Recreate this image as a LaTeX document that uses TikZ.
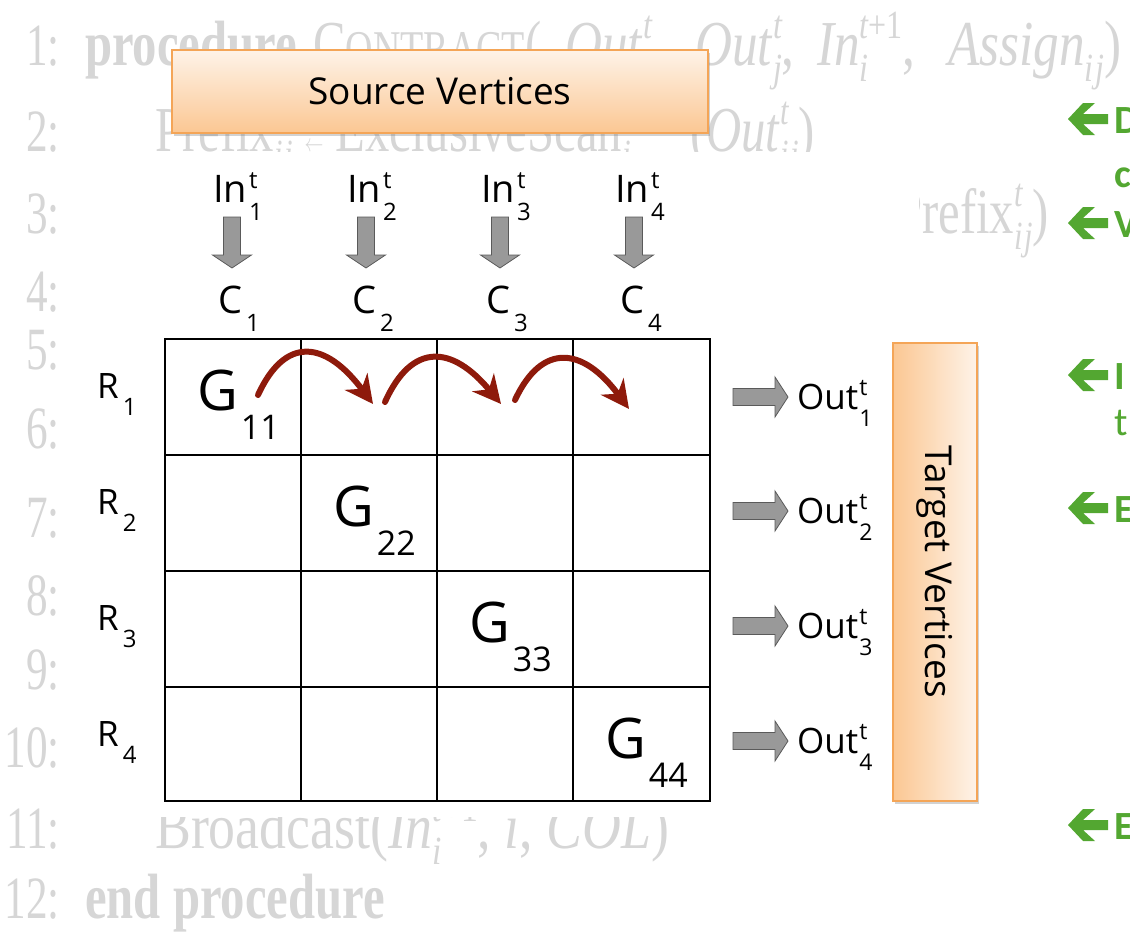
\documentclass[tikz,border=0pt]{standalone}
\usepackage{fontspec}
\usepackage{graphicx}
\setmainfont{Liberation Serif}
\newfontfamily\osans{Open Sans}
\newfontfamily\gsans{Carlito}
\usetikzlibrary{arrows.meta,shadows}
\definecolor{algogray}{HTML}{D6D6D6}
\definecolor{boxborder}{HTML}{F4A557}
\definecolor{boxdark}{HTML}{FBC793}
\definecolor{boxlight}{HTML}{FEF3E8}
\definecolor{arrgray}{HTML}{999999}
\definecolor{arredge}{HTML}{5A5A5A}
\definecolor{darkred}{HTML}{8E1A0B}
\definecolor{annogreen}{HTML}{53A731}
\newcommand\cnum[1]{\scalebox{0.72}[1]{#1}}
\newcommand\cnd[1]{\scalebox{0.76}[1]{#1}}
\newcommand\cndi[1]{\scalebox{0.8}[1]{#1}}
\newcommand\cndw[1]{\scalebox{0.84}[1]{#1}}
\newcommand\scf{\fontsize{40}{40}\selectfont\itshape}
\newcommand\asc[2]{\setbox0\hbox{\scf #1}\setbox2\hbox{\scf #2}%
  \ifdim\wd0>\wd2 \rlap{\raisebox{-16pt}{\box2}}\raisebox{27pt}{\box0}%
  \else\rlap{\raisebox{27pt}{\box0}}\raisebox{-16pt}{\box2}\fi}
\newcommand\asub[1]{\raisebox{-16pt}{\scf #1}}
\newcommand\Inlbl[1]{In\kern2pt\rlap{\raisebox{14pt}{\fontsize{24}{24}\selectfont t}}\raisebox{-18pt}{\fontsize{24}{24}\selectfont #1}}
\newcommand\Clbl[1]{C\kern4pt\raisebox{-18pt}{\fontsize{24}{24}\selectfont #1}}
\newcommand\Rlbl[1]{R\kern4pt\raisebox{-17pt}{\fontsize{24}{24}\selectfont #1}}
\newcommand\Glbl[1]{G\kern3pt\raisebox{-29pt}{\fontsize{34}{34}\selectfont #1}}
\newcommand\Outlbl[1]{Out\kern1pt\rlap{\raisebox{14pt}{\fontsize{23}{23}\selectfont t}}\raisebox{-17pt}{\fontsize{23}{23}\selectfont #1}}
\tikzset{
  algo/.style={text=algogray, anchor=base west, inner sep=0pt, font=\fontsize{64}{64}\selectfont},
  lnum/.style={text=algogray, anchor=base east, inner sep=0pt, font=\fontsize{60}{60}\selectfont},
  lbl/.style={anchor=base west, inner sep=0pt, font=\osans\fontsize{38}{38}\selectfont},
  rlbl/.style={anchor=base west, inner sep=0pt, font=\osans\fontsize{35}{35}\selectfont},
  glbl/.style={anchor=base west, inner sep=0pt, font=\osans\fontsize{56}{56}\selectfont},
  outlbl/.style={anchor=base west, inner sep=0pt, font=\osans\fontsize{35}{35}\selectfont},
  blockarr/.style={fill=arrgray, draw=arredge, line width=0.8pt},
  gridline/.style={line width=2.5pt, black},
  redarr/.style={draw=darkred, line width=6pt, line cap=round, -{Stealth[length=28pt,width=28pt,inset=9pt]}},
  srcbox/.style={draw=boxborder, line width=2pt, top color=boxlight, bottom color=boxdark,
     minimum width=536pt, minimum height=83pt, inner sep=0pt,
     drop shadow={opacity=0.35, shadow xshift=2pt, shadow yshift=-3pt},
     font=\osans\fontsize{37}{37}\selectfont},
  tgtbox/.style={draw=boxborder, line width=2pt, left color=boxdark, right color=boxlight,
     minimum width=84pt, minimum height=458pt, inner sep=0pt,
     drop shadow={opacity=0.35, shadow xshift=2pt, shadow yshift=-3pt}},
  anno/.style={text=annogreen, anchor=base west, inner sep=0pt, font=\gsans\bfseries\fontsize{40}{40}\selectfont},
  downarr/.pic={\path[blockarr] (-8.5,0) -- (-8.5,38) -- (-19.5,38) -- (0,51) -- (19.5,38) -- (8.5,38) -- (8.5,0) -- cycle;},
  rightarr/.pic={\path[blockarr] (0,-8.5) -- (42,-8.5) -- (42,-20) -- (55,0) -- (42,20) -- (42,8.5) -- (0,8.5) -- cycle;},
  greenarr/.pic={\fill[annogreen] (0,0) -- (15,-16) -- (27,-16) -- (15,-5) -- (40,-5) -- (40,5) -- (15,5) -- (27,16) -- (15,16) -- cycle;}
}
\begin{document}
\begin{tikzpicture}[x=1pt,y=-1pt]
\useasboundingbox[fill=white] (0,0) rectangle (1130,932);
% ---- faded algorithm in the background
\node[lnum] (n1) at (60,65) {\cnum{1:}};
\node[lnum] (n2) at (60,151) {\cnum{2:}};
\node[lnum] (n3) at (60,233) {\cnum{3:}};
\node[lnum] (n4) at (60,311) {\cnum{4:}};
\node[lnum] (n5) at (60,369) {\cnum{5:}};
\node[lnum] (n6) at (60,448) {\cnum{6:}};
\node[lnum] (n7) at (60,537) {\cnum{7:}};
\node[lnum] (n8) at (60,615) {\cnum{8:}};
\node[lnum] (n9) at (60,689) {\cnum{9:}};
\node[lnum] (n10) at (60,767) {\cnum{10:}};
\node[lnum] (n11) at (60,848) {\cnum{11:}};
\node[lnum] (n12) at (60,918) {\cnum{12:}};
\node[algo] (l1a) at (85,65) {\cnd{\textbf{procedure}}};
\node[algo] (l1b) at (313,65) {\cnd{C{\fontsize{50}{50}\selectfont ONTRACT}(}};
\node[algo] (l1c) at (565,65) {\cndi{\textit{Out}\asc{t}{i},}};
\node[algo] (l1d) at (695,65) {\cndi{\textit{Out}\asc{t}{j},}};
\node[algo] (l1e) at (817,65) {\cndi{\textit{In}\asc{t\upshape+1}{i},}};
\node[algo] (l1f) at (948,65) {\cndi{\textit{Assign}\asub{i\kern2pt j})}};
\node[algo] (l2a) at (155,151) {\cnd{Prefix\asub{i\kern2pt j} $\leftarrow$ ExclusiveScan\asub{j}}};
\node[algo] (l2b) at (690,151) {\cnd{(\textit{Out}\asc{t}{i\kern2pt j})}};
\node[algo] (l3) at (895,233) {\cnd{Prefix\asc{t}{i\kern2pt j})}};
\node[algo] (l11) at (155,848) {\cndw{Broadcast(\textit{In}\asc{t\upshape+1}{i}, \textit{i}, \textit{COL})}};
\node[algo] (l12) at (85,918) {\cnd{\textbf{end procedure}}};
% ---- green annotations (cut by the page edge)
\pic at (1068,119) {greenarr};
\pic at (1068,223) {greenarr};
\pic at (1068,375) {greenarr};
\pic at (1068,508) {greenarr};
\pic at (1068,825) {greenarr};
\node[anno] (g1) at (1114,133) {D};
\node[anno] (g2) at (1114,187) {c};
\node[anno] (g3) at (1114,237) {V};
\node[anno] (g4) at (1114,389) {I};
\node[anno, font=\gsans\fontsize{40}{40}\selectfont] (g5) at (1114,435) {t};
\node[anno] (g6) at (1114,522) {E};
\node[anno] (g7) at (1114,839) {E};
% ---- white cover of the pasted diagram
\fill[white] (80,152) rectangle (919,817);
% ---- source box
\node[srcbox] (src) at (440,91.5) {Source Vertices};
% ---- inputs
\node[lbl] (in1) at (213,202) {\Inlbl{1}};
\node[lbl] (in2) at (347,202) {\Inlbl{2}};
\node[lbl] (in3) at (481,202) {\Inlbl{3}};
\node[lbl] (in4) at (615,202) {\Inlbl{4}};
\pic at (232,217) {downarr};
\pic at (366,217) {downarr};
\pic at (500,217) {downarr};
\pic at (634,217) {downarr};
\node[lbl] (c1) at (218,313) {\Clbl{1}};
\node[lbl] (c2) at (352,313) {\Clbl{2}};
\node[lbl] (c3) at (486,313) {\Clbl{3}};
\node[lbl] (c4) at (620,313) {\Clbl{4}};
% ---- rows
\node[rlbl] (r1) at (97,398) {\Rlbl{1}};
\node[rlbl] (r2) at (97,514) {\Rlbl{2}};
\node[rlbl] (r3) at (97,630) {\Rlbl{3}};
\node[rlbl] (r4) at (97,746) {\Rlbl{4}};
% ---- grid
\draw[gridline] (165,339) rectangle (710,801);
\foreach \x in {301,437,573} \draw[gridline] (\x,339) -- (\x,801);
\foreach \y in {455,571,687} \draw[gridline] (165,\y) -- (710,\y);
\node[glbl] (g11) at (197,410) {\Glbl{11}};
\node[glbl] (g22) at (333,526) {\Glbl{22}};
\node[glbl] (g33) at (469,642) {\Glbl{33}};
\node[glbl] (g44) at (605,758) {\Glbl{44}};
% ---- red arrows
\coordinate (a1s) at (258,395); \coordinate (a1e) at (373,404);
\coordinate (a2s) at (385,402); \coordinate (a2e) at (501,404);
\coordinate (a3s) at (515,400); \coordinate (a3e) at (629,409);
\draw[redarr] (a1s) .. controls (285,336) and (325,340) .. (a1e);
\draw[redarr] (a2s) .. controls (412,342) and (452,345) .. (a2e);
\draw[redarr] (a3s) .. controls (542,342) and (583,347) .. (a3e);
% ---- outputs
\pic at (733,397) {rightarr};
\pic at (733,511) {rightarr};
\pic at (733,626) {rightarr};
\pic at (733,741) {rightarr};
\node[outlbl] (o1) at (797,409) {\Outlbl{1}};
\node[outlbl] (o2) at (797,523) {\Outlbl{2}};
\node[outlbl] (o3) at (797,638) {\Outlbl{3}};
\node[outlbl] (o4) at (797,753) {\Outlbl{4}};
% ---- target box
\node[tgtbox] (tgt) at (935,572) {};
\node[rotate=-90, inner sep=0pt, font=\osans\fontsize{37}{37}\selectfont] (tgttxt) at (tgt.center) {Target Vertices};
\end{tikzpicture}
\end{document}
